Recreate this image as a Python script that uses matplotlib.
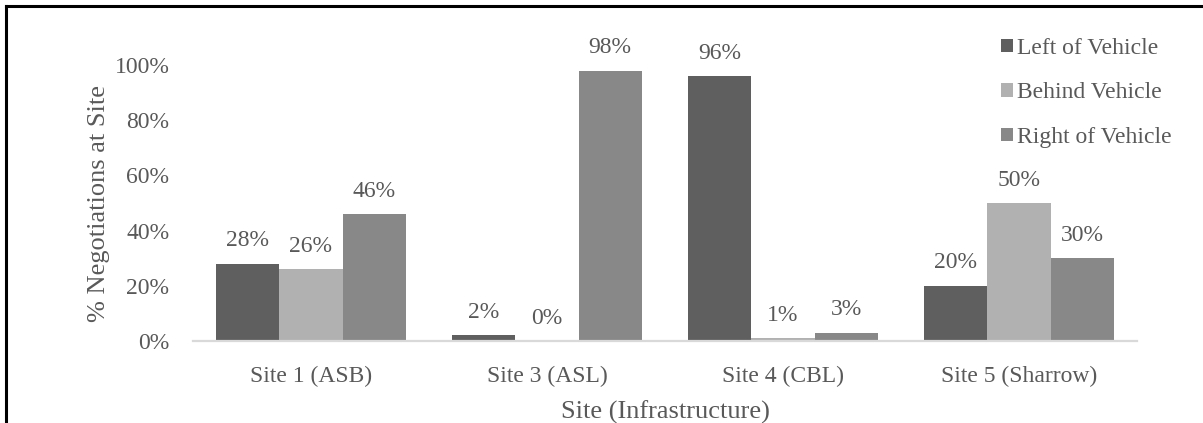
import matplotlib
matplotlib.use("Agg")
import matplotlib.pyplot as plt
from matplotlib.lines import Line2D
import numpy as np

sites = ["Site 1 (ASB)", "Site 3 (ASL)", "Site 4 (CBL)", "Site 5 (Sharrow)"]
series_names = ["Left of Vehicle", "Behind Vehicle", "Right of Vehicle"]
left_vals = [28, 2, 96, 20]
behind_vals = [26, 0, 1, 50]
right_vals = [46, 98, 3, 30]
yticks = [0, 20, 40, 60, 80, 100]

colors = ["#5f5f5f", "#b1b1b1", "#888888"]
text_color = "#595959"

plt.rcParams["font.family"] = ["Liberation Serif", "DejaVu Serif"]

W, H = 1203, 423
fig = plt.figure(figsize=(W / 100, H / 100), dpi=100)
ax = fig.add_axes([193 / W, 1 - 341 / H, (1137 - 193) / W, (341 - 65) / H])

x = np.arange(len(sites))
width = 0.267
offsets = [-width, 0, width]
for vals, off, col, name in zip([left_vals, behind_vals, right_vals], offsets, colors, series_names):
    bars = ax.bar(x + off, np.array(vals) / 100, width, color=col, label=name,
                  edgecolor="none", zorder=2)
    for b, v in zip(bars, vals):
        ax.annotate(f"{v}%", (b.get_x() + b.get_width() / 2, b.get_height()),
                    xytext=(0, 23), textcoords="offset pixels", ha="center",
                    va="center", fontsize=17, color=text_color, annotation_clip=False)

ax.set_xlim(-0.5, 3.5)
ax.set_ylim(0, 1.0)
ax.set_yticks(np.array(yticks) / 100)
ax.set_yticklabels([f"{t}%" for t in yticks])
ax.set_xticks(x)
ax.set_xticklabels(sites)
ax.tick_params(axis="both", length=0, labelsize=17, labelcolor=text_color)
ax.tick_params(axis="y", pad=17)
ax.tick_params(axis="x", pad=18)
for s in ["top", "right", "left"]:
    ax.spines[s].set_visible(False)
ax.spines["bottom"].set_color("#d9d9d9")
ax.spines["bottom"].set_linewidth(1.6)

ax.set_xlabel("Site (Infrastructure)", fontsize=19, color=text_color, labelpad=10)
ax.set_ylabel("% Negotiations at Site", fontsize=19, color=text_color, labelpad=3)

leg = fig.legend(loc="upper left", bbox_to_anchor=(989 / W, 1 - 26 / H),
                 frameon=False, fontsize=17, handlelength=0.5, handleheight=0.5,
                 handletextpad=0.2, labelspacing=1.0, borderpad=0)
for t in leg.get_texts():
    t.set_color(text_color)

# frame lines along the top and left edges
fig.add_artist(Line2D([5.5 / W, 1.0], [1 - 6 / H, 1 - 6 / H], color="black", lw=2.2,
                      transform=fig.transFigure))
fig.add_artist(Line2D([6 / W, 6 / W], [0, 1 - 6 / H], color="black", lw=2.2,
                      transform=fig.transFigure))

fig.savefig("out.png", dpi=100)
